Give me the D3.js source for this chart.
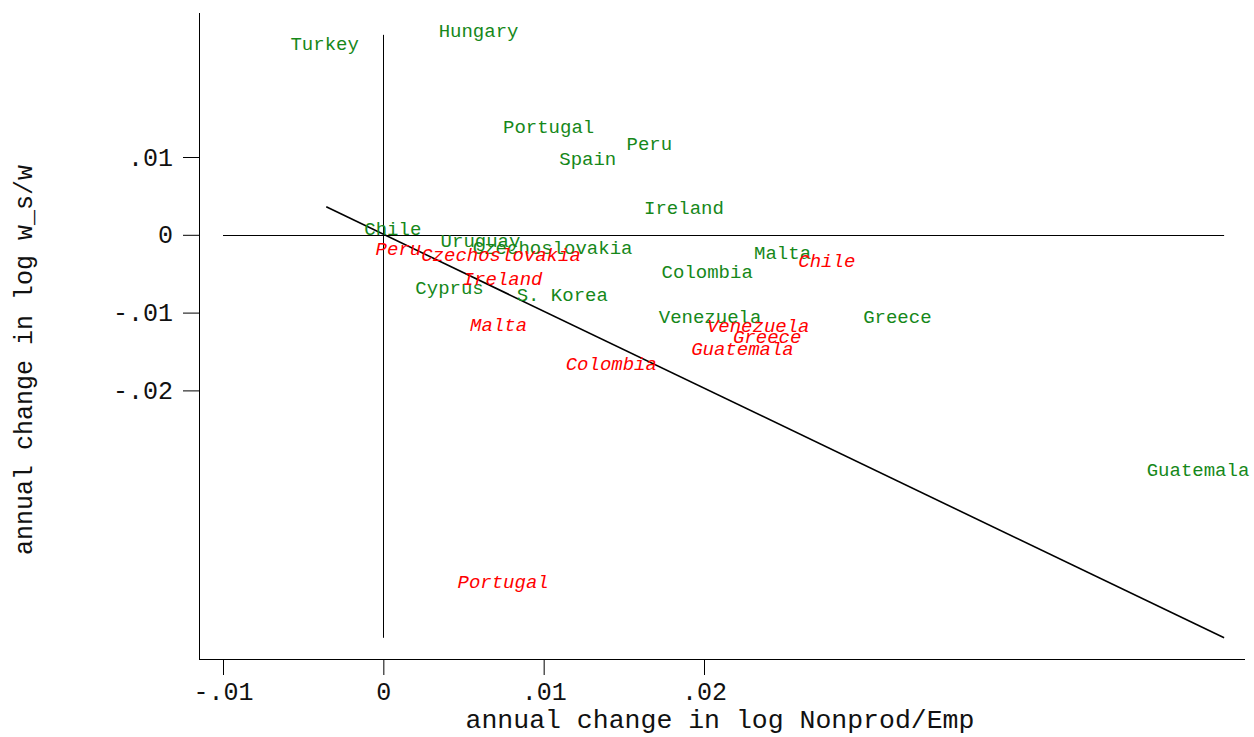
<!DOCTYPE html>
<html>
<head>
<meta charset="utf-8">
<script src="https://cdn.jsdelivr.net/npm/d3@7"></script>
<style>
  html, body { margin: 0; padding: 0; background: #fff; }
  svg { display: block; }
  text { font-family: "Liberation Mono", "Courier New", monospace; }
</style>
</head>
<body>
<svg id="chart" width="1254" height="737"></svg>
<script>
// Country labels placed at (annual change in log Nonprod/Emp, annual change in log w_s/w)
const greenCountries = ["Turkey", "Hungary", "Portugal", "Peru", "Spain", "Ireland", "Chile",
  "Uruguay", "Czechoslovakia", "Malta", "Colombia", "Cyprus", "S. Korea", "Venezuela",
  "Greece", "Guatemala"];
const greenX = [-0.00366, 0.00594, 0.01031, 0.01659, 0.01275, 0.01875, 0.00059,
  0.00606, 0.01056, 0.02490, 0.02020, 0.00413, 0.01116, 0.02038, 0.03206, 0.05081];
const greenY = [0.02442, 0.02609, 0.01375, 0.01157, 0.00964, 0.00334, 0.00064,
  -0.00090, -0.00180, -0.00244, -0.00488, -0.00694, -0.00784, -0.01067, -0.01067, -0.03033];

const redCountries = ["Peru", "Czechoslovakia", "Ireland", "Chile", "Malta", "Venezuela",
  "Greece", "Guatemala", "Colombia", "Portugal"];
const redX = [0.00094, 0.00734, 0.00744, 0.02766, 0.00719, 0.02338, 0.02394, 0.02240, 0.01422, 0.00747];
const redY = [-0.00193, -0.00270, -0.00578, -0.00347, -0.01170, -0.01183, -0.01324, -0.01478, -0.01671, -0.04473];

// Fitted line endpoints
const fitX = [-0.00356, 0.05244];
const fitY = [0.00360, -0.05180];

// Zero reference lines
const hRefX = [-0.01, 0.05244];
const vRefY = [0.02570, -0.05180];

const xTicks = [-0.01, 0, 0.01, 0.02];
const xTickLabels = ["-.01", "0", ".01", ".02"];
const yTicks = [0.01, 0, -0.01, -0.02];
const yTickLabels = [".01", "0", "-.01", "-.02"];

const xTitle = "annual change in log Nonprod/Emp";
const yTitle = "annual change in log w_s/w";

const svg = d3.select("#chart");

const x = d3.scaleLinear().domain([-0.01, 0.02]).range([223, 704]);
const y = d3.scaleLinear().domain([0.01, -0.02]).range([157, 390.4]);

const plotLeft = 199, plotRight = 1245, plotTop = 13, plotBottom = 659;

// Axes
const xAxis = d3.axisBottom(x).tickValues(xTicks).tickSize(16).tickPadding(7)
  .tickFormat((d, i) => xTickLabels[i]);
const gx = svg.append("g").attr("transform", `translate(0,${plotBottom})`).call(xAxis);
gx.select(".domain").remove();
gx.selectAll(".tick line").attr("stroke", "#000").attr("stroke-width", 1);
gx.selectAll(".tick text").attr("font-size", 25).attr("fill", "#111")
  .attr("font-family", "Liberation Mono, monospace");

const yAxis = d3.axisLeft(y).tickValues(yTicks).tickSize(16).tickPadding(10)
  .tickFormat((d, i) => yTickLabels[i]);
const gy = svg.append("g").attr("transform", `translate(${plotLeft},0)`).call(yAxis);
gy.select(".domain").remove();
gy.selectAll(".tick line").attr("stroke", "#000").attr("stroke-width", 1);
gy.selectAll(".tick text").attr("font-size", 25).attr("fill", "#111")
  .attr("font-family", "Liberation Mono, monospace");

// Axis lines
svg.append("line").attr("x1", plotLeft).attr("x2", plotRight)
  .attr("y1", plotBottom + 0.5).attr("y2", plotBottom + 0.5)
  .attr("stroke", "#000").attr("stroke-width", 1);
svg.append("line").attr("x1", plotLeft + 0.5).attr("x2", plotLeft + 0.5)
  .attr("y1", plotTop).attr("y2", plotBottom)
  .attr("stroke", "#000").attr("stroke-width", 1);

// Zero reference lines
svg.append("line")
  .attr("x1", x(hRefX[0])).attr("x2", x(hRefX[1]))
  .attr("y1", Math.round(y(0)) + 0.5).attr("y2", Math.round(y(0)) + 0.5)
  .attr("stroke", "#000").attr("stroke-width", 1);
svg.append("line")
  .attr("x1", Math.round(x(0)) + 0.5).attr("x2", Math.round(x(0)) + 0.5)
  .attr("y1", y(vRefY[0])).attr("y2", y(vRefY[1]))
  .attr("stroke", "#000").attr("stroke-width", 1);

// Fitted line
svg.append("path")
  .datum(fitX.map((d, i) => [d, fitY[i]]))
  .attr("d", d3.line().x(d => x(d[0])).y(d => y(d[1])))
  .attr("fill", "none").attr("stroke", "#000").attr("stroke-width", 1.6);

// Country labels
const greenData = greenCountries.map((c, i) => ({ c, x: greenX[i], y: greenY[i] }));
const redData = redCountries.map((c, i) => ({ c, x: redX[i], y: redY[i] }));

svg.append("g").selectAll("text").data(greenData).join("text")
  .attr("x", d => x(d.x)).attr("y", d => y(d.y))
  .attr("text-anchor", "middle").attr("dominant-baseline", "central")
  .attr("font-size", 19)
  .attr("fill", "#16881a")
  .text(d => d.c);

svg.append("g").selectAll("text").data(redData).join("text")
  .attr("x", d => x(d.x)).attr("y", d => y(d.y))
  .attr("text-anchor", "middle").attr("dominant-baseline", "central")
  .attr("font-size", 19).attr("font-style", "italic")
  .attr("fill", "#ff0000")
  .text(d => d.c);

// Axis titles
svg.append("text").attr("x", 720).attr("y", 721)
  .attr("text-anchor", "middle").attr("dominant-baseline", "central")
  .attr("font-size", 26.5).attr("fill", "#111").text(xTitle);
svg.append("text")
  .attr("transform", "translate(25,360) rotate(-90)")
  .attr("text-anchor", "middle").attr("dominant-baseline", "central")
  .attr("font-size", 25).attr("fill", "#111").text(yTitle);
</script>
</body>
</html>
